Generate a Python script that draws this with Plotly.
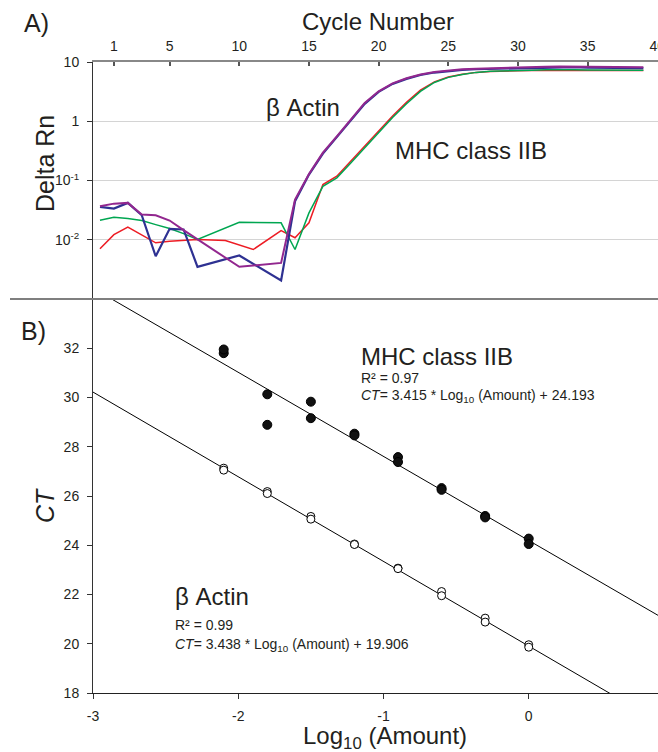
import plotly.graph_objects as go

# ---- Panel A: amplification curves (Delta Rn vs cycle) ----
actin1_cycle = [0, 1, 2, 3, 4, 5, 6, 7, 10, 13, 14, 15, 16, 17, 18, 19, 20, 21, 22, 23, 24, 25,
                26, 27, 28, 29, 30, 31, 32, 33, 34, 35, 36, 37, 38, 39]
actin1_rn = [0.0359, 0.0336, 0.0419, 0.0259, 0.00527, 0.0153, 0.0149, 0.00349, 0.00542, 0.00205,
             0.0446, 0.126, 0.285, 0.537, 1.035, 1.97, 3.13, 4.27, 5.19, 6.03, 6.64, 7.05,
             7.33, 7.55, 7.69, 7.76, 7.82, 7.87, 8.04, 8.17, 8.17, 8.04, 7.98, 7.94, 7.91, 7.91]

actin2_cycle = [0, 1, 2, 3, 4, 5, 6, 7, 10, 13, 14, 15, 16, 17, 18, 19, 20, 21, 22, 23, 24, 25,
                26, 27, 28, 29, 30, 31, 32, 33, 34, 35, 36, 37, 38, 39]
actin2_rn = [0.0367, 0.0407, 0.0419, 0.0266, 0.0259, 0.0211, 0.0145, 0.0101, 0.00349, 0.00407,
             0.0476, 0.129, 0.295, 0.556, 1.07, 2.04, 3.20, 4.37, 5.31, 6.17, 6.79, 7.21,
             7.52, 7.73, 7.87, 7.94, 8.04, 8.13, 8.28, 8.36, 8.32, 8.22, 8.17, 8.13, 8.13, 8.13]

mhc1_cycle = [0, 1, 2, 3, 4, 5, 6, 7, 9, 11, 13, 14, 15, 16, 17, 18, 19, 20, 21, 22, 23, 24, 25,
              26, 27, 28, 29, 30, 31, 32, 33, 34, 35, 36, 37, 38, 39]
mhc1_rn = [0.00703, 0.0122, 0.0163, 0.0122, 0.00887, 0.00944, 0.00977, 0.0101, 0.0097, 0.00684,
           0.0143, 0.0108, 0.0193, 0.0853, 0.118, 0.211, 0.380, 0.700, 1.23, 2.09, 3.35, 4.62, 5.56,
           6.19, 6.68, 6.92, 7.08, 7.13, 7.18, 7.24, 7.28, 7.24, 7.16, 7.11, 7.18, 7.21, 7.21]

mhc2_cycle = [0, 1, 2, 3, 4, 5, 6, 7, 10, 13, 14, 15, 16, 17, 18, 19, 20, 21, 22, 23, 24, 25,
              26, 27, 28, 29, 30, 31, 32, 33, 34, 35, 36, 37, 38, 39]
mhc2_rn = [0.0213, 0.0240, 0.0228, 0.0211, 0.0180, 0.0155, 0.0127, 0.0101, 0.0197, 0.0193,
           0.00684, 0.0284, 0.0798, 0.111, 0.198, 0.359, 0.661, 1.16, 1.97, 3.20, 4.52, 5.50,
           6.17, 6.68, 6.95, 7.11, 7.21, 7.28, 7.38, 7.45, 7.41, 7.35, 7.35, 7.28, 7.28, 7.28]

cycle_ticks = [1, 5, 10, 15, 20, 25, 30, 35, 40]
rn_ticks = [0.01, 0.1, 1, 10]
rn_tick_text = ["10<sup>-2</sup>", "10<sup>-1</sup>", "1", "10"]

# ---- Panel B: standard curves ----
log_amount = [-2.1, -2.1, -1.8, -1.8, -1.5, -1.5, -1.2, -1.2,
              -0.9, -0.9, -0.6, -0.6, -0.3, -0.3, 0.0, 0.0]
mhc_ct = [31.8, 31.95, 30.13, 28.89, 29.83, 29.16, 28.53, 28.46,
          27.58, 27.38, 26.32, 26.25, 25.19, 25.13, 24.27, 24.05]
actin_ct = [27.13, 27.05, 26.18, 26.1, 25.17, 25.06, 24.05, 24.03,
            23.07, 23.05, 22.12, 21.95, 21.04, 20.88, 19.96, 19.86]

mhc_slope, mhc_intercept, mhc_r2 = 3.415, 24.193, 0.97
actin_slope, actin_intercept, actin_r2 = 3.438, 19.906, 0.99

ct_ticks = [18, 20, 22, 24, 26, 28, 30, 32]
amount_ticks = [-3, -2, -1, 0]
amount_tick_text = ["-3", "-2", "-1", "0"]

# ---- layout geometry (pixels) ----
W, H = 658, 752
L, R, T, B = 93, 0, 62, 59
plot_w = W - L - R
plot_h = H - T - B
split_px = 299  # boundary between panels
split = (H - B - split_px) / plot_h

def px_x(p):
    return (p - L) / plot_w

def px_y(p):
    return (H - B - p) / plot_h

FONT = "Liberation Sans, Arial, sans-serif"
TXT = "#231f20"

fig = go.Figure()

# Panel A traces
fig.add_trace(go.Scatter(x=mhc1_cycle, y=mhc1_rn, mode="lines",
                         line=dict(color="#ed1c24", width=1.5), xaxis="x", yaxis="y"))
fig.add_trace(go.Scatter(x=mhc2_cycle, y=mhc2_rn, mode="lines",
                         line=dict(color="#00a651", width=1.5), xaxis="x", yaxis="y"))
fig.add_trace(go.Scatter(x=actin1_cycle, y=actin1_rn, mode="lines",
                         line=dict(color="#2e3192", width=2.2), xaxis="x", yaxis="y"))
fig.add_trace(go.Scatter(x=actin2_cycle, y=actin2_rn, mode="lines",
                         line=dict(color="#92278f", width=2), xaxis="x", yaxis="y"))

# Panel B fit lines from the regression equations
fit_x = [-3.0, 0.9]
fig.add_trace(go.Scatter(x=fit_x, y=[mhc_intercept - mhc_slope * v for v in fit_x], mode="lines",
                         line=dict(color="#000", width=1), xaxis="x2", yaxis="y2"))
fig.add_trace(go.Scatter(x=fit_x, y=[actin_intercept - actin_slope * v for v in fit_x], mode="lines",
                         line=dict(color="#000", width=1), xaxis="x2", yaxis="y2"))

# Panel B points
fig.add_trace(go.Scatter(x=log_amount, y=mhc_ct, mode="markers",
                         marker=dict(symbol="circle", size=9, color="#111",
                                     line=dict(color="#000", width=1)),
                         xaxis="x2", yaxis="y2"))
fig.add_trace(go.Scatter(x=log_amount, y=actin_ct, mode="markers",
                         marker=dict(symbol="circle", size=8, color="white",
                                     line=dict(color="#000", width=1)),
                         xaxis="x2", yaxis="y2"))

tickfont = dict(family=FONT, size=14, color=TXT)

fig.update_layout(
    width=W, height=H,
    margin=dict(l=L, r=R, t=T, b=B),
    paper_bgcolor="white", plot_bgcolor="white",
    showlegend=False,
    font=dict(family=FONT, color=TXT),
    xaxis=dict(domain=[0, 1], anchor="y", side="top", range=[-0.5, 40.05],
               tickvals=cycle_ticks, ticks="inside", ticklen=4, tickwidth=1.5,
               tickcolor="#555", showline=True, linecolor="#888", linewidth=1.5,
               showgrid=False, zeroline=False, tickfont=tickfont, ticklabelstandoff=4,
               ticklabeloverflow="allow", automargin=False),
    yaxis=dict(domain=[split, 1], anchor="x", type="log", range=[-3, 1],
               tickvals=rn_ticks, ticktext=rn_tick_text, ticks="outside", ticklen=5,
               tickcolor="#333", showline=True, linecolor="#333", linewidth=1,
               showgrid=True, gridcolor="#d4d4d4", gridwidth=1, zeroline=False,
               tickfont=tickfont, ticklabelstandoff=5, automargin=False),
    xaxis2=dict(domain=[0, 1], anchor="y2", range=[-3, 0.89],
                tickvals=amount_ticks, ticktext=amount_tick_text, ticks="outside",
                ticklen=5, tickcolor="#333",
                showline=True, linecolor="#222", linewidth=1, showgrid=False,
                zeroline=False, tickfont=tickfont, ticklabelstandoff=5, automargin=False),
    yaxis2=dict(domain=[0, split], anchor="x2", range=[18, 34],
                tickvals=ct_ticks, ticks="outside", ticklen=5, tickcolor="#333",
                showline=True, linecolor="#333", linewidth=1, showgrid=False,
                zeroline=False, tickfont=tickfont, ticklabelstandoff=5, automargin=False),
)

# separator line between the two panels
fig.add_shape(type="line", xref="paper", yref="paper",
              x0=px_x(10), x1=1, y0=split, y1=split,
              line=dict(color="#7f7f7f", width=2))

ann = []
def paper_text(text, xp, yp, size, angle=0, xanchor="center"):
    ann.append(dict(text=text, x=px_x(xp), y=px_y(yp), xref="paper", yref="paper",
                    showarrow=False, textangle=angle, xanchor=xanchor, yanchor="middle",
                    font=dict(family=FONT, size=size, color=TXT)))

paper_text("A)", 36, 23, 25)
paper_text("B)", 33, 331, 25)
paper_text("Cycle Number", 378, 21, 24)
paper_text("Delta Rn", 45, 164, 25, angle=-90)
paper_text("<i>CT</i>", 45, 506, 25, angle=-90)
paper_text("Log<sub>10</sub> (Amount)", 385, 737, 24)

# labels inside panel A (data coordinates, log axis uses log10 units)
ann.append(dict(text="β Actin", x=14.6, y=0.23, xref="x", yref="y", showarrow=False,
                font=dict(family=FONT, size=24, color=TXT)))
ann.append(dict(text="MHC class IIB", x=26.6, y=-0.49, xref="x", yref="y", showarrow=False,
                font=dict(family=FONT, size=24, color=TXT)))

# labels inside panel B
def eq_text(name, r2, slope, intercept, x0, y_name, y_r2, y_eq):
    ann.append(dict(text=name, x=x0, y=y_name, xref="x2", yref="y2", showarrow=False,
                    xanchor="left", font=dict(family=FONT, size=24, color=TXT)))
    ann.append(dict(text=f"R² = {r2:.2f}", x=x0, y=y_r2, xref="x2", yref="y2",
                    showarrow=False, xanchor="left", font=dict(family=FONT, size=14, color=TXT)))
    ann.append(dict(text=f"<i>CT</i>= {slope:.3f} * Log<sub>10</sub> (Amount) + {intercept:.3f}",
                    x=x0, y=y_eq, xref="x2", yref="y2", showarrow=False, xanchor="left",
                    font=dict(family=FONT, size=14, color=TXT)))

eq_text("MHC class IIB", mhc_r2, mhc_slope, mhc_intercept, -1.17, 31.65, 30.78, 30.08)
eq_text("β Actin", actin_r2, actin_slope, actin_intercept, -2.45, 21.9, 20.76, 19.95)

fig.update_layout(annotations=ann)

fig.write_html("out.html")
